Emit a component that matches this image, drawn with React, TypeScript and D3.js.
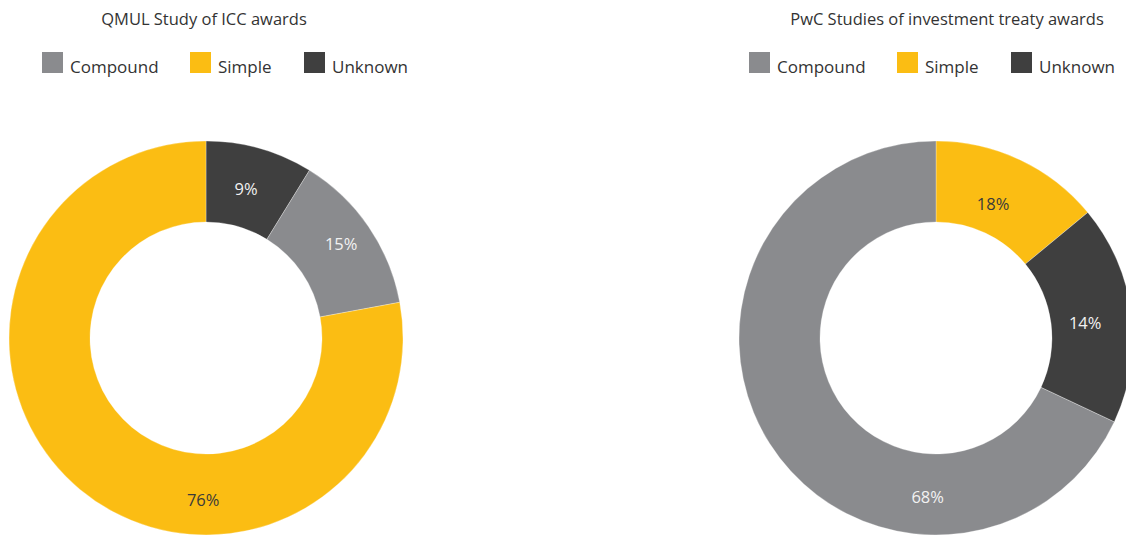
import React from "react";
import * as d3 from "d3";

const categories = ["Compound", "Simple", "Unknown"];
const colors = ["#8a8b8e", "#fbbd13", "#3f3f3f"];

const leftTitle = "QMUL Study of ICC awards";
const leftOrder = ["Unknown", "Compound", "Simple"];
// printed labels
const leftLabels = [9, 15, 76];
// slice sizes as drawn in the picture
const leftShares = [8.8, 13.3, 77.9];

const rightTitle = "PwC Studies of investment treaty awards";
const rightOrder = ["Simple", "Unknown", "Compound"];
const rightLabels = [18, 14, 68];
const rightShares = [14, 18, 68];

// label placement (angle in degrees from top, radius) – layout only
const leftLabelPos = [[15, 155], [55, 165], [181, 162]];
const rightLabelPos = [[23, 146], [84, 150], [183, 159]];

const W = 1126;
const H = 540;
const FONT = "'Open Sans', 'Noto Sans', sans-serif";

const color = d3.scaleOrdinal<string, string>().domain(categories).range(colors);

function Donut({ cx, cy, title, titleX, legendX, order, shares, labels, labelPos }: any) {
  const pie = d3.pie<number>().sort(null).value((d) => d)(shares);
  const arc = d3.arc<any>().innerRadius(116).outerRadius(197);
  const legendOffsets = [0, 148, 262];
  const textColor = (cat: string) => (cat === "Simple" ? "#3a3a3a" : "#f2f2f2");
  return (
    <g>
      <text x={titleX} y={25} textAnchor="middle" fontSize={16.5} fill="#333" fontFamily={FONT}>
        {title}
      </text>
      {categories.map((c, i) => (
        <g key={c} transform={`translate(${legendX + legendOffsets[i]},52)`}>
          <rect width={21} height={21} fill={color(c)} />
          <text x={28} y={20.5} fontSize={17} fill="#333" fontFamily={FONT}>
            {c}
          </text>
        </g>
      ))}
      <g transform={`translate(${cx},${cy})`}>
        {pie.map((p, i) => (
          <path key={i} d={arc(p) as string} fill={color(order[i])} stroke="#fff" strokeWidth={0.3} />
        ))}
        {pie.map((p, i) => {
          const a = (labelPos[i][0] * Math.PI) / 180;
          const r = labelPos[i][1];
          return (
            <text
              key={"l" + i}
              x={r * Math.sin(a)}
              y={-r * Math.cos(a)}
              textAnchor="middle"
              dominantBaseline="central"
              fontSize={16.5}
              fill={textColor(order[i])}
              fontFamily={FONT}
            >
              {labels[i]}%
            </text>
          );
        })}
      </g>
    </g>
  );
}

export default function App() {
  return (
    <svg
      width={W}
      height={H}
      style={{ position: "absolute", left: 0, top: 0, display: "block", background: "#fff" }}
    >
      <Donut
        cx={206}
        cy={338}
        title={leftTitle}
        titleX={204}
        legendX={42}
        order={leftOrder}
        shares={leftShares}
        labels={leftLabels}
        labelPos={leftLabelPos}
      />
      <Donut
        cx={936}
        cy={338}
        title={rightTitle}
        titleX={947}
        legendX={749}
        order={rightOrder}
        shares={rightShares}
        labels={rightLabels}
        labelPos={rightLabelPos}
      />
    </svg>
  );
}
